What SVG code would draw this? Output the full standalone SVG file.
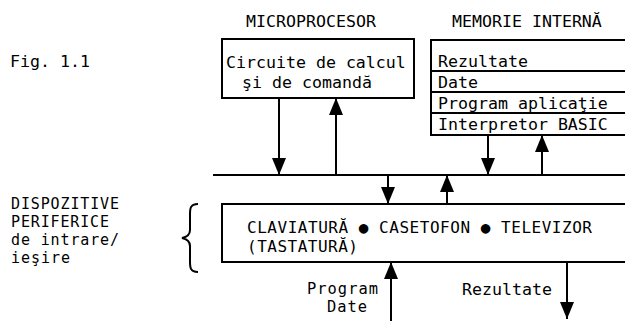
<svg xmlns="http://www.w3.org/2000/svg" width="625" height="321" viewBox="0 0 625 321">
<style>
text{font-family:"DejaVu Sans Mono","Liberation Mono",monospace;font-size:16.6px;fill:#000}
.s15{font-size:15px}
.s16{font-size:16px}
.s154{font-size:15.4px}
.box{fill:#fff;stroke:#000;stroke-width:2}
.ln{stroke:#000;stroke-width:2;fill:none}
</style>
<defs>
<marker id="ah" viewBox="0 0 17 14" refX="17" refY="7" markerWidth="17" markerHeight="14" orient="auto" markerUnits="userSpaceOnUse">
<path d="M0,0 L17,7 L0,14 z" fill="#000"/>
</marker>
</defs>
<rect width="625" height="321" fill="#fff"/>
<g id="caption"><text x="10" y="67">Fig. 1.1</text></g>
<g id="microprocesor">
<text x="246" y="27">MICROPROCESOR</text>
<rect class="box" x="222" y="39" width="192" height="59"/>
<text x="226" y="68">Circuite de calcul</text>
<text x="242" y="88">şi de comandă</text>
</g>
<g id="memorie">
<text x="452" y="27">MEMORIE INTERNĂ</text>
<rect class="box" x="431" y="40" width="220" height="95"/>
<line class="ln" x1="431" y1="71" x2="625" y2="71"/>
<line class="ln" x1="431" y1="92" x2="625" y2="92"/>
<line class="ln" x1="431" y1="113" x2="625" y2="113"/>
<text x="438" y="67">Rezultate</text>
<text x="438" y="88">Date</text>
<text x="438" y="109">Program aplicaţie</text>
<text x="438" y="130">Interpretor BASIC</text>
</g>
<g id="periferice">
<text class="s15" x="11" y="209" textLength="108">DISPOZITIVE</text>
<text class="s15" x="11" y="227" textLength="98">PERIFERICE</text>
<text class="s15" x="11" y="245" textLength="108">de intrare/</text>
<text class="s15" x="11" y="263" textLength="59">ieşire</text>
<path class="ln" d="M198,204 C189,204 190,210 190,218 L190,230 C190,235 187,237 182,238 C187,239 190,241 190,246 L190,258 C190,266 189,272 198,272"/>
<rect class="box" x="222" y="204" width="420" height="58"/>
<text class="s16" x="247" y="233" textLength="345">CLAVIATURĂ ● CASETOFON ● TELEVIZOR</text>
<text class="s16" x="247" y="252" textLength="111">(TASTATURĂ)</text>
</g>
<g id="connectors">
<line class="ln" x1="213" y1="175" x2="625" y2="175"/>
<line class="ln" x1="279" y1="98" x2="279" y2="175" marker-end="url(#ah)"/>
<line class="ln" x1="336" y1="175" x2="336" y2="98" marker-end="url(#ah)"/>
<line class="ln" x1="488" y1="135" x2="488" y2="175" marker-end="url(#ah)"/>
<line class="ln" x1="542" y1="175" x2="542" y2="135" marker-end="url(#ah)"/>
<line class="ln" x1="388" y1="175" x2="388" y2="204" marker-end="url(#ah)"/>
<line class="ln" x1="447" y1="204" x2="447" y2="175" marker-end="url(#ah)"/>
<line class="ln" x1="391" y1="321" x2="391" y2="262" marker-end="url(#ah)"/>
<line class="ln" x1="567" y1="262" x2="567" y2="319" marker-end="url(#ah)"/>
<text class="s154" x="307" y="294" textLength="71">Program</text>
<text class="s154" x="327" y="312" textLength="40">Date</text>
<text x="462" y="295">Rezultate</text>
</g>
</svg>
